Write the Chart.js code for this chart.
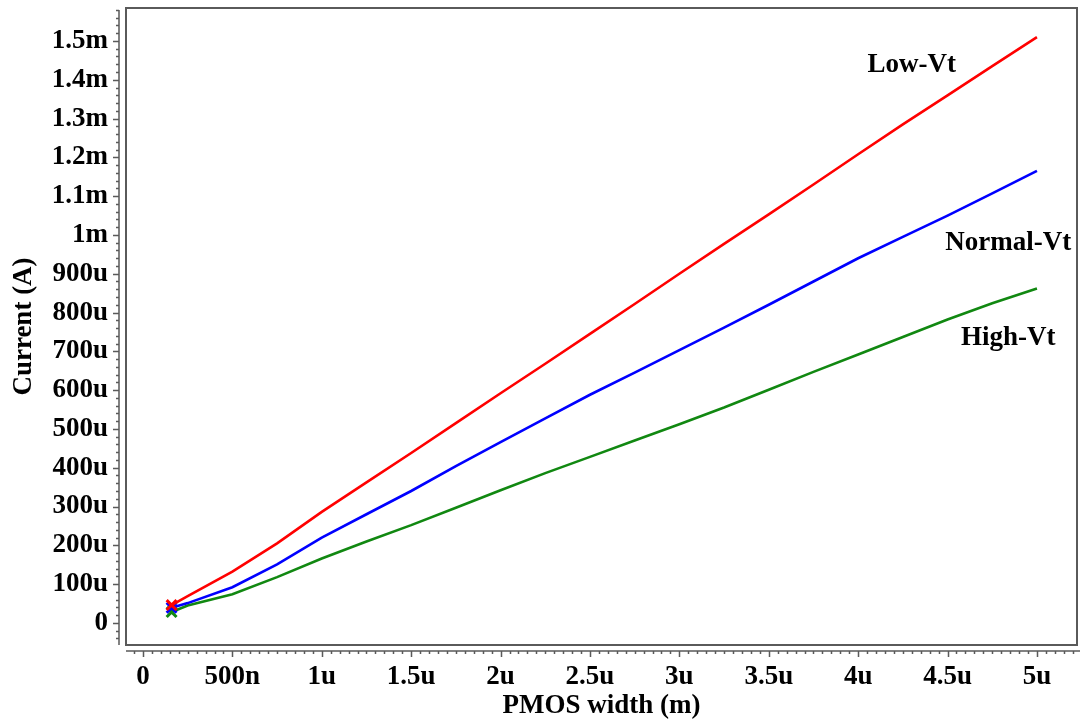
<!DOCTYPE html>
<html lang="en">
<head>
    <meta charset="UTF-8">
    <title>PMOS width sweep</title>
    <style>
        html, body { margin: 0; padding: 0; background: #fff; overflow: hidden; }
        canvas { display: block; }
    </style>
</head>
<body>

    <canvas id="chart" width="1082" height="722"></canvas>

    <script src="https://cdn.jsdelivr.net/npm/chart.js"></script>
    <script>
        // PMOS width (um)
        const widths = [0.16, 0.25, 0.5, 0.75, 1, 1.25, 1.5, 1.75, 2, 2.25, 2.5, 2.75, 3, 3.25, 3.5, 3.75, 4, 4.25, 4.5, 4.75, 5];
        // drain current (uA)
        const lowVt = [46, 69, 132, 205, 286, 362, 438, 515, 592, 668, 745, 822, 900, 977, 1053, 1130, 1208, 1285, 1360, 1435, 1510];
        const normalVt = [39, 51, 92, 151, 220, 280, 340, 404, 466, 527, 588, 645, 703, 761, 820, 880, 940, 995, 1050, 1107, 1165];
        const highVt = [28, 45, 74, 118, 166, 210, 252, 297, 342, 386, 428, 470, 512, 555, 601, 647, 692, 737, 782, 824, 862];

        const seriesNames = ['Low-Vt', 'Normal-Vt', 'High-Vt'];
        // where each curve name sits, in data units (um, uA)
        const nameX = [4.30, 4.84, 4.84];
        const nameY = [1420, 961, 716];

        const FONT = '"Liberation Serif", "Times New Roman", serif';
        const AXIS_GREY = '#5a5a5a';

        function xLabel(v) {
            if (v === 0) return '0';
            if (v < 1) return Math.round(v * 1000) + 'n';
            return v + 'u';
        }
        function yLabel(v) {
            if (v === 0) return '0';
            if (v >= 1000) return (Math.round(v / 100) / 10) + 'm';
            return v + 'u';
        }

        function toPoints(ys) {
            return widths.map((w, i) => ({ x: w, y: ys[i] }));
        }

        function lineSet(label, ys, color) {
            return {
                label: label,
                data: toPoints(ys),
                borderColor: color,
                backgroundColor: color,
                borderWidth: 2.6,
                tension: 0,
                pointStyle: 'crossRot',
                pointRadius: ctx => ctx.dataIndex === 0 ? 7 : 0,
                pointBorderWidth: 3,
                pointBorderColor: color,
                pointHoverRadius: 0
            };
        }

        // no auto padding from tick labels, chart area is set by layout padding
        function noPad(s) {
            s.paddingTop = 0;
            s.paddingBottom = 0;
            s.paddingLeft = 0;
            s.paddingRight = 0;
        }

        // plot frame, axis lines with major/minor ticks, curve names
        const scopeLook = {
            id: 'scopeLook',
            afterDraw(chart) {
                const c = chart.ctx;
                const a = chart.chartArea;
                const xs = chart.scales.x;
                const ys = chart.scales.y;
                c.save();

                c.strokeStyle = AXIS_GREY;
                c.lineWidth = 2;
                c.strokeRect(a.left, a.top, a.right - a.left, a.bottom - a.top);

                c.lineWidth = 1.5;
                c.beginPath();
                // y axis line + ticks
                const ax = a.left - 7;
                c.moveTo(ax, a.top + 2);
                c.lineTo(ax, a.bottom);
                for (let v = Math.ceil(ys.min / 20) * 20; v <= ys.max; v += 20) {
                    const p = Math.round(ys.getPixelForValue(v)) + 0.5;
                    const len = (v % 100 === 0) ? 6 : 3;
                    c.moveTo(ax, p);
                    c.lineTo(ax - len, p);
                }
                // x axis line + ticks
                const ay = a.bottom + 6;
                c.moveTo(a.left, ay);
                c.lineTo(a.right + 3, ay);
                for (let k = Math.ceil(xs.min / 0.05); k * 0.05 <= xs.max; k++) {
                    const p = Math.round(xs.getPixelForValue(k * 0.05)) + 0.5;
                    const len = (k % 10 === 0) ? 6 : 3;
                    c.moveTo(p, ay);
                    c.lineTo(p, ay + len);
                }
                c.stroke();

                c.fillStyle = '#000';
                c.font = 'bold 27px ' + FONT;
                c.textAlign = 'center';
                c.textBaseline = 'alphabetic';
                seriesNames.forEach((name, i) => {
                    c.fillText(name, xs.getPixelForValue(nameX[i]), ys.getPixelForValue(nameY[i]));
                });
                c.restore();
            }
        };

        const ctx = document.getElementById('chart').getContext('2d');
        const chart = new Chart(ctx, {
            type: 'line',
            data: {
                datasets: [
                    lineSet('Low-Vt', lowVt, '#ff0000'),
                    lineSet('Normal-Vt', normalVt, '#0000ff'),
                    lineSet('High-Vt', highVt, '#118811')
                ]
            },
            options: {
                responsive: false,
                animation: false,
                events: [],
                layout: { autoPadding: false, padding: { top: 8, right: 5, left: 0, bottom: 0 } },
                plugins: {
                    legend: { display: false },
                    tooltip: { enabled: false }
                },
                scales: {
                    x: {
                        type: 'linear',
                        min: -0.095,
                        max: 5.224,
                        afterFit: s => { s.height = 77; noPad(s); },
                        grid: { display: false, drawTicks: false },
                        border: { display: false },
                        ticks: {
                            stepSize: 0.5,
                            includeBounds: false,
                            autoSkip: false,
                            maxRotation: 0,
                            padding: 16,
                            color: '#000',
                            font: { family: FONT, size: 27, weight: 'bold' },
                            callback: v => xLabel(v)
                        },
                        title: {
                            display: true,
                            text: 'PMOS width (m)',
                            color: '#000',
                            font: { family: FONT, size: 27, weight: 'bold', lineHeight: 1 },
                            padding: { top: 0, bottom: 2 }
                        }
                    },
                    y: {
                        type: 'linear',
                        min: -57,
                        max: 1585,
                        afterFit: s => { s.width = 126; noPad(s); },
                        grid: { display: false, drawTicks: false },
                        border: { display: false },
                        ticks: {
                            stepSize: 100,
                            includeBounds: false,
                            autoSkip: false,
                            padding: 18,
                            color: '#000',
                            font: { family: FONT, size: 27, weight: 'bold' },
                            callback: v => yLabel(v)
                        },
                        title: {
                            display: true,
                            text: 'Current (A)',
                            color: '#000',
                            font: { family: FONT, size: 27, weight: 'bold', lineHeight: 1 },
                            padding: { top: 11, bottom: 0 }
                        }
                    }
                }
            },
            plugins: [scopeLook]
        });
    </script>

</body>
</html>
